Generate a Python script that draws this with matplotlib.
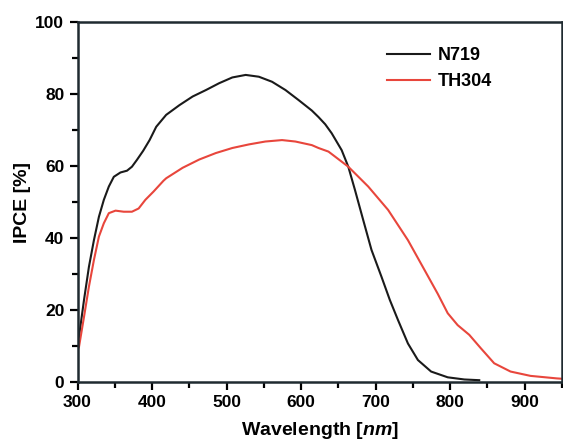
import matplotlib
matplotlib.use('Agg')
import matplotlib.pyplot as plt
from matplotlib.ticker import MultipleLocator

plt.rcParams.update({
    'font.family': ['Liberation Sans', 'DejaVu Sans'],
    'font.weight': 'bold',
    'font.size': 12,
    'mathtext.fontset': 'custom',
    'mathtext.rm': 'Liberation Sans:bold',
    'mathtext.it': 'Liberation Sans:italic:bold',
})

# N719 IPCE curve (wavelength nm, IPCE %)
n719_wl = [300, 302, 308.7, 315.3, 322, 328.7, 335.3, 342, 348.7, 357.6, 366.4, 373,
           379.7, 388, 396.7, 405.6, 418.9, 436.7, 454.4, 472.3, 490, 507.7, 525.6,
           543.3, 561, 579, 596.7, 614.4, 623.3, 632.3, 641, 654.4, 663.3, 672.3,
           683.3, 694.4, 707.7, 719, 730, 743.3, 756.7, 774.4, 796.7, 819, 839]
n719_ipce = [10.5, 12.6, 22.8, 32.0, 39.4, 45.9, 50.6, 54.3, 57.0, 58.2, 58.7, 59.8,
             61.7, 64.2, 67.2, 70.9, 74.2, 76.9, 79.3, 81.1, 83.0, 84.6, 85.3,
             84.8, 83.4, 81.1, 78.3, 75.4, 73.6, 71.6, 69.1, 64.4, 59.8, 53.3,
             45.0, 36.7, 29.3, 22.8, 17.2, 10.7, 6.1, 2.9, 1.3, 0.7, 0.5]

# TH304 IPCE curve
th304_wl = [300, 302, 308.7, 315.3, 322, 328.7, 335.3, 342, 351, 362, 373, 382, 391,
            402, 415.3, 419, 441, 463.3, 485.6, 507.7, 530, 552, 574.4, 592.3, 614.4,
            623.3, 636.7, 645.6, 663.3, 690, 716.7, 743.3, 765.6, 783.3, 796.7, 810,
            825.6, 841, 859, 881, 907.7, 943, 950]
th304_ipce = [8.9, 9.8, 18.1, 26.5, 33.9, 40.4, 44.1, 46.9, 47.6, 47.3, 47.3, 48.2, 50.6,
              52.9, 55.9, 56.6, 59.5, 61.8, 63.6, 65.0, 66.0, 66.8, 67.2, 66.8, 65.8,
              65.0, 64.0, 62.6, 59.8, 54.3, 47.8, 39.4, 31.1, 24.5, 19.1, 15.8,
              13.1, 9.4, 5.2, 2.9, 1.7, 1.0, 0.9]

fig = plt.figure(figsize=(5.63, 4.41), dpi=100)
ax = fig.add_axes([0.1377, 0.1338, 0.8605, 0.8163])

ax.plot(n719_wl, n719_ipce, color='#1a1a1a', lw=1.5, label='N719')
ax.plot(th304_wl, th304_ipce, color='#e8463c', lw=1.5, label='TH304')

ax.set_xlim(300, 950)
ax.set_ylim(0, 100)
ax.xaxis.set_major_locator(MultipleLocator(100))
ax.xaxis.set_minor_locator(MultipleLocator(50))
ax.yaxis.set_major_locator(MultipleLocator(20))
ax.yaxis.set_minor_locator(MultipleLocator(10))
ax.tick_params(which='major', direction='out', length=6, width=1.6, labelsize=12.5)
ax.tick_params(which='minor', direction='out', length=4, width=1.6)
for s in ax.spines.values():
    s.set_linewidth(1.8)
    s.set_color('#1f2a30')

ax.set_xlabel(r'Wavelength $\mathit{[nm]}$', fontsize=14, fontweight='bold', labelpad=7)
ax.set_ylabel('IPCE [%]', fontsize=14, fontweight='bold', labelpad=3)

ax.legend(loc='upper right', bbox_to_anchor=(0.89, 0.975), frameon=False,
          handlelength=2.4, handletextpad=0.45, labelspacing=0.5,
          prop={'weight': 'bold', 'size': 13})

fig.savefig('out.png', dpi=100)
